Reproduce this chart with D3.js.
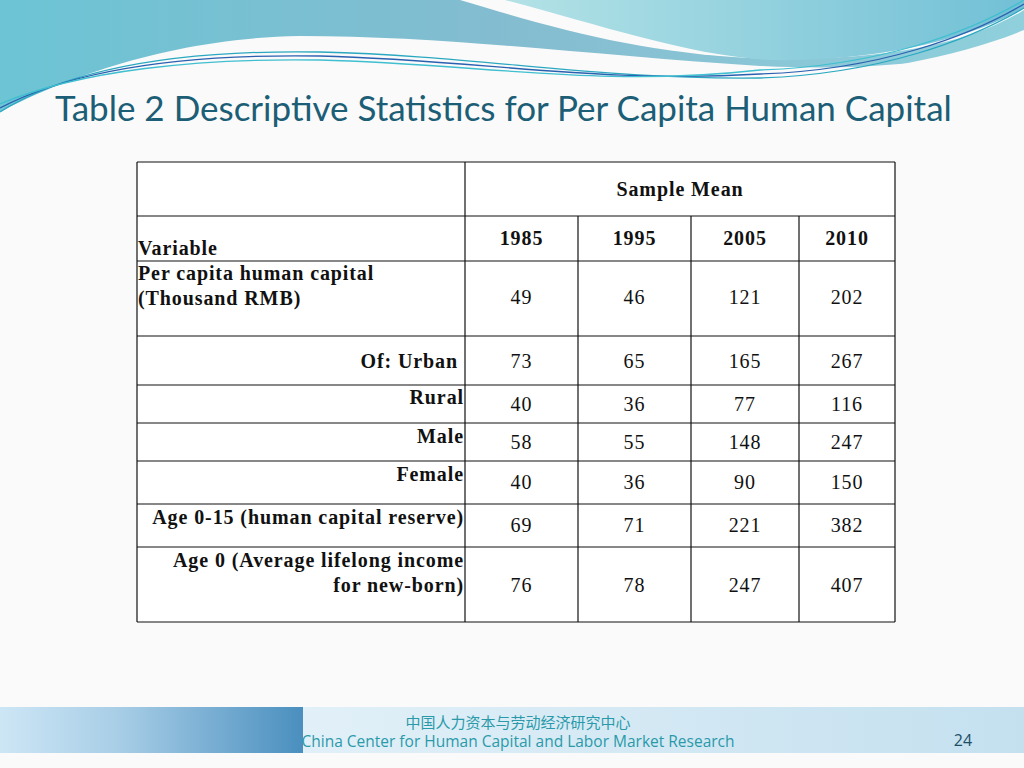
<!DOCTYPE html>
<html><head><meta charset="utf-8">
<script src="https://cdn.jsdelivr.net/npm/d3@7"></script>
<style>body{margin:0;background:#fafafa;}svg{display:block}</style>
</head><body>
<svg id="c" width="1024" height="768"></svg>
<script>
const years = ["1985","1995","2005","2010"];
const rowLabels = [["Per capita human capital","(Thousand RMB)"],["Of: Urban"],["Rural"],["Male"],["Female"],["Age 0-15 (human capital reserve)"],["Age 0 (Average lifelong income","for new-born)"]];
const v1985 = [49,73,40,58,40,69,76];
const v1995 = [46,65,36,55,36,71,78];
const v2005 = [121,165,77,148,90,221,247];
const v2010 = [202,267,116,247,150,382,407];
const series = [v1985,v1995,v2005,v2010];

const svg = d3.select("#c");
const defs = svg.append("defs");
const g1 = defs.append("linearGradient").attr("id","w1").attr("x1",0).attr("x2",1);
g1.append("stop").attr("offset",0).attr("stop-color","#6cc4d4");
g1.append("stop").attr("offset",0.5).attr("stop-color","#84bcd0");
g1.append("stop").attr("offset",1).attr("stop-color","#8fd0dc");
const g2 = defs.append("linearGradient").attr("id","w2").attr("x1",0).attr("x2",1);
g2.append("stop").attr("offset",0).attr("stop-color","#b3e2e6");
g2.append("stop").attr("offset",1).attr("stop-color","#72c0d6");
const g3 = defs.append("linearGradient").attr("id","f1").attr("x1",0).attr("x2",1);
g3.append("stop").attr("offset",0).attr("stop-color","#cde6f5");
g3.append("stop").attr("offset",0.4).attr("stop-color","#a7cde6");
g3.append("stop").attr("offset",1).attr("stop-color","#4a8fbf");
const g4 = defs.append("linearGradient").attr("id","f2").attr("x1",0).attr("x2",1);
g4.append("stop").attr("offset",0).attr("stop-color","#eef7fc");
g4.append("stop").attr("offset",1).attr("stop-color","#c4e0ef");

// header waves
svg.append("path").attr("fill","url(#w1)")
  .attr("d","M0,0 L1024,0 L1024,40 C960,60 880,72 760,66 C600,56 450,36 300,36 C170,38 60,80 0,112 Z");
svg.append("path").attr("fill","#fafafa")
  .attr("d","M460,0 L1024,0 L1024,10 C960,50 860,62 750,58 C640,52 560,30 460,0 Z");
svg.append("path").attr("fill","url(#w2)")
  .attr("d","M505,0 L1024,0 L1024,8 C960,45 860,62 770,60 C690,56 600,25 505,0 Z");
svg.append("path").attr("fill","#fafafa")
  .attr("d","M0,112 C60,80 170,56 300,56 C450,56 560,82 720,80 C850,78 950,60 1024,30 L1024,768 L0,768 Z");
[["#2aa8c0",0],["#2a60b0",4],["#3fbfcf",8]].forEach(([c,o])=>{
  svg.append("path").attr("fill","none").attr("stroke",c).attr("stroke-width",1.3)
   .attr("d",`M0,${112-o} C80,${62+o} 200,${50+o} 320,${52+o} C480,${56+o} 600,${80+o} 760,${78-o} C880,${74-o} 970,${40-o} 1024,${8-o}`);
});

svg.append("text").attr("x",55).attr("y",121).attr("font-family","Lato, 'Open Sans', sans-serif")
  .attr("font-size",35).attr("fill","#1c5e76").text("Table 2 Descriptive Statistics for Per Capita Human Capital");

// table
const xEdges = [137,465,578,691,799,895];
const yEdges = [162,216,261,336,385,423,461,504,547,622];
const T = svg.append("g").attr("font-family","'Liberation Serif', serif").attr("font-size",20).attr("letter-spacing","0.9px").attr("fill","#111");
T.append("rect").attr("x",137).attr("y",162).attr("width",758).attr("height",460).attr("fill","#fff");
const ln=(x1,y1,x2,y2)=>T.append("line").attr("x1",x1).attr("y1",y1).attr("x2",x2).attr("y2",y2).attr("stroke","#111").attr("stroke-width",1.2);
ln(137,162,895,162); ln(137,622,895,622); ln(137,162,137,622); ln(895,162,895,622);
ln(465,162,465,622);
yEdges.slice(1,-1).forEach(y=>ln(137,y,895,y));
xEdges.slice(2,-1).forEach(x=>ln(x,216,x,622));
const centers = years.map((y,i)=>(xEdges[i+1]+xEdges[i+2])/2);
T.append("text").attr("x",680).attr("y",196).attr("text-anchor","middle").attr("font-weight","bold").text("Sample Mean");
years.forEach((y,i)=>T.append("text").attr("x",centers[i]).attr("y",245).attr("text-anchor","middle").attr("font-weight","bold").text(y));
T.append("text").attr("x",138).attr("y",255).attr("font-weight","bold").text("Variable");
const rowTextY=[[280,305],[368],[404],[443],[481],[524],[567,592]];
const valY=[304,368,411,449,489,532,592];
rowLabels.forEach((lab,r)=>{
  lab.forEach((t,k)=>{
    const left = r===0;
    T.append("text").attr("x",left?138:(r===1?458:464)).attr("y",rowTextY[r][k]).attr("text-anchor",left?"start":"end").attr("font-weight","bold").text(t);
  });
  series.forEach((s,i)=>T.append("text").attr("x",centers[i]).attr("y",valY[r]).attr("text-anchor","middle").text(s[r]));
});

// footer
svg.append("rect").attr("x",0).attr("y",707).attr("width",1024).attr("height",46).attr("fill","url(#f2)");
svg.append("rect").attr("x",0).attr("y",707).attr("width",303).attr("height",46).attr("fill","url(#f1)");
svg.append("text").attr("x",518).attr("y",728).attr("text-anchor","middle").attr("font-family","'Noto Sans CJK SC'").attr("font-size",15).attr("fill","#2a9aaa").text("中国人力资本与劳动经济研究中心");
svg.append("text").attr("x",518).attr("y",747).attr("text-anchor","middle").attr("font-family","'Open Sans', sans-serif").attr("font-size",15.5).attr("fill","#2a9aaa").text("China Center for Human Capital and Labor Market Research");
svg.append("text").attr("x",963).attr("y",746).attr("text-anchor","middle").attr("font-family","'Open Sans', sans-serif").attr("font-size",16).attr("fill","#1c4e66").text("24");
</script>
</body></html>
